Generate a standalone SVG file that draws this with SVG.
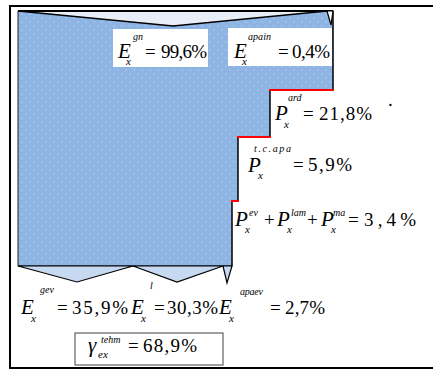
<svg xmlns="http://www.w3.org/2000/svg" width="433" height="370" viewBox="0 0 433 370">
<style>
.v{font-family:"Liberation Serif","Times New Roman",serif;font-style:italic;font-size:21px;fill:#000}
.s{font-family:"Liberation Serif","Times New Roman",serif;font-style:italic;font-size:10px;fill:#000}
.b{font-family:"Liberation Serif","Times New Roman",serif;font-style:italic;font-size:11px;fill:#000}
.n{font-family:"Liberation Serif","Times New Roman",serif;font-size:19px;fill:#000}
.edge{stroke:#000;stroke-width:1.5;fill:none}
.red{stroke:#ff0000;stroke-width:2;fill:none}
.arr{fill:#c6d9f1;stroke:#000;stroke-width:1.2;stroke-linejoin:miter}
.lbl{fill:#fff;stroke:none}
</style>
<defs>
<pattern id="dots" width="8" height="8" patternUnits="userSpaceOnUse">
<rect width="8" height="8" fill="#8db4e2"/>
<circle cx="2" cy="2" r="0.9" fill="#a9c6ea"/>
<circle cx="6" cy="6" r="0.9" fill="#a9c6ea"/>
</pattern>
</defs>
<rect width="433" height="370" fill="#fff"/>
<rect x="10" y="6" width="432" height="362" fill="none" stroke="#000" stroke-width="2"/>

<g id="main-flow">
<polygon points="18,11 333,11 333,90 270,90 270,137 238,137 238,201 232,201 232,266 18,266" fill="url(#dots)"/>
<line x1="18" y1="11" x2="18" y2="266" stroke="#222" stroke-width="1"/>
<line x1="18" y1="266" x2="232" y2="266" stroke="#000" stroke-width="1.2"/>
<polyline class="edge" points="333,11 333,90"/>
<polyline class="edge" points="270,90 270,137"/>
<polyline class="edge" points="238,137 238,201"/>
<polyline class="edge" points="232,201 232,266"/>
<line class="red" x1="269" y1="90" x2="334" y2="90"/>
<line class="red" x1="237" y1="137" x2="271" y2="137"/>
<line class="red" x1="231" y1="201" x2="239" y2="201"/>
</g>

<g id="connectors">
<polygon points="18,11 333,11 327,11 173,26" fill="#e8eef7" stroke="#000" stroke-width="1.3" stroke-linejoin="miter"/>
<line x1="18" y1="11" x2="333" y2="11" stroke="#000" stroke-width="1.8"/>
<polygon points="327,11 333,11 331,25" fill="#fff" stroke="#000" stroke-width="1.2"/>
<polygon class="arr" points="18,266 77,282 133,266"/>
<polygon class="arr" points="133,266 177,282 223,266"/>
<polygon class="arr" points="223,266 227,283 232,266"/>
</g>

<g id="label-gn">
<rect class="lbl" x="113" y="29" width="95" height="38"/>
<text class="v" x="118" y="58">E</text>
<text class="s" x="133" y="40">gn</text>
<text class="b" x="126" y="65">x</text>
<text class="n" x="145" y="57.5">=</text>
<text class="n" x="161" y="57.5" textLength="46" lengthAdjust="spacing">99,6%</text>
</g>

<g id="label-apain">
<rect class="lbl" x="228" y="28" width="104" height="38"/>
<text class="v" x="234" y="58">E</text>
<text class="s" x="248" y="40" textLength="23" lengthAdjust="spacing">apain</text>
<text class="b" x="242" y="65">x</text>
<text class="n" x="278" y="57.5">=</text>
<text class="n" x="292" y="57.5" textLength="38" lengthAdjust="spacing">0,4%</text>
</g>

<g id="label-ard">
<text class="v" x="275" y="120">P</text>
<text class="s" x="288" y="101">ard</text>
<text class="b" x="284" y="128">x</text>
<text class="n" x="303" y="120">=</text>
<text class="n" x="319" y="120" font-size="20" textLength="53" lengthAdjust="spacing">21,8%</text>
<text class="n" x="388" y="106" font-size="14">.</text>
</g>

<g id="label-tcapa">
<text class="v" x="248" y="172">P</text>
<text class="s" x="254" y="152" textLength="37" lengthAdjust="spacing">t.c.apa</text>
<text class="b" x="258" y="179">x</text>
<text class="n" x="293" y="171">=</text>
<text class="n" x="308" y="171" font-size="20" textLength="44" lengthAdjust="spacing">5,9%</text>
</g>

<g id="label-ev-lam-ma">
<text class="v" x="235" y="226">P</text>
<text class="s" x="249" y="216">ev</text>
<text class="b" x="245" y="233">x</text>
<text class="n" x="264" y="226">+</text>
<text class="v" x="277" y="226">P</text>
<text class="s" x="291" y="216">lam</text>
<text class="b" x="287" y="233">x</text>
<text class="n" x="307" y="226">+</text>
<text class="v" x="321" y="226">P</text>
<text class="s" x="333" y="216">ma</text>
<text class="b" x="331" y="233">x</text>
<text class="n" x="348" y="226">=</text>
<text class="n" x="364" y="226" font-size="21" textLength="52" lengthAdjust="spacing">3,4%</text>
</g>

<g id="label-gev">
<text class="v" x="21" y="314">E</text>
<text class="s" x="40" y="293">gev</text>
<text class="b" x="31" y="322">x</text>
<text class="n" x="57" y="314">=</text>
<text class="n" x="72" y="314" textLength="56" lengthAdjust="spacing">35,9%</text>
</g>

<g id="label-l">
<text class="v" x="131" y="314">E</text>
<text class="s" x="150" y="289">l</text>
<text class="b" x="141" y="322">x</text>
<text class="n" x="154" y="314">=</text>
<text class="n" x="167" y="314" textLength="51" lengthAdjust="spacing">30,3%</text>
</g>

<g id="label-apaev">
<text class="v" x="219" y="314">E</text>
<text class="s" x="240" y="295" textLength="23" lengthAdjust="spacing">apaev</text>
<text class="b" x="229" y="322">x</text>
<text class="n" x="270" y="314">=</text>
<text class="n" x="285" y="314" textLength="40" lengthAdjust="spacing">2,7%</text>
</g>

<g id="label-gamma">
<rect x="75" y="333" width="148" height="32" fill="#fff" stroke="#404040" stroke-width="1"/>
<text class="v" x="88" y="352">γ</text>
<text class="s" x="101" y="343">tehm</text>
<text class="b" x="98" y="358">ex</text>
<text class="n" x="128" y="352">=</text>
<text class="n" x="143" y="352" textLength="54" lengthAdjust="spacing">68,9%</text>
</g>
</svg>
